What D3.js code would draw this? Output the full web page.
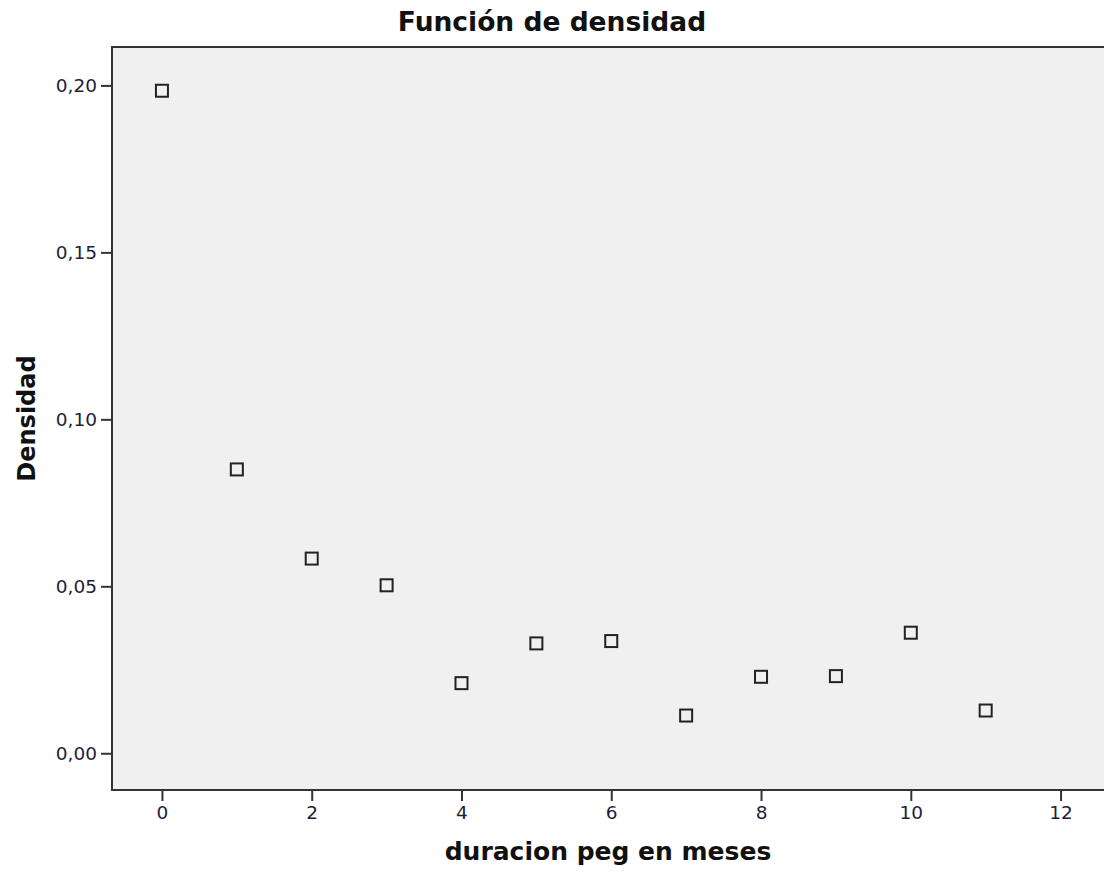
<!DOCTYPE html>
<html>
<head>
<meta charset="utf-8">
<script src="https://cdn.jsdelivr.net/npm/d3@7"></script>
<style>
  html, body { margin: 0; padding: 0; background: #ffffff; }
  svg { display: block; }
  .tick text { font-family: "DejaVu Sans", sans-serif; fill: #1e1e3c; }
</style>
</head>
<body>
<svg id="chart" width="1104" height="873"></svg>
<script>
// Duración del peg en meses y su densidad estimada
const months = [0, 1, 2, 3, 4, 5, 6, 7, 8, 9, 10, 11];
const density = [0.1984, 0.0850, 0.0583, 0.0503, 0.0210, 0.0329, 0.0336, 0.0113, 0.0229, 0.0231, 0.0361, 0.0128];
const xTickValues = [0, 2, 4, 6, 8, 10, 12];
const yTickValues = [0, 0.05, 0.10, 0.15, 0.20];
const titleText = "Función de densidad";
const xLabel = "duracion peg en meses";
const yLabel = "Densidad";

const W = 1104, H = 873;
const margin = { top: 47, right: 0, bottom: 83, left: 112 };
const svg = d3.select("#chart");

const x = d3.scaleLinear().domain([-0.667, 12.58]).range([margin.left, W - margin.right]);
const y = d3.scaleLinear().domain([-0.011, 0.2115]).range([H - margin.bottom, margin.top]);

const commaFmt = d => d3.format(".2f")(d).replace(".", ",");

// plot background and frame (open on the right)
svg.append("rect")
  .attr("x", margin.left).attr("y", margin.top)
  .attr("width", W - margin.left + 4).attr("height", H - margin.bottom - margin.top)
  .attr("fill", "#f0f0f0").attr("stroke", "#333333").attr("stroke-width", 2);

// axes
const xAxis = svg.append("g")
  .attr("transform", `translate(0,${H - margin.bottom})`)
  .call(d3.axisBottom(x).tickValues(xTickValues).tickSize(11).tickPadding(5).tickFormat(d3.format("d")));
const yAxis = svg.append("g")
  .attr("transform", `translate(${margin.left},0)`)
  .call(d3.axisLeft(y).tickValues(yTickValues).tickSize(11).tickPadding(4).tickFormat(commaFmt));

[xAxis, yAxis].forEach(g => {
  g.select(".domain").remove();
  g.selectAll(".tick line").attr("stroke", "#333333").attr("stroke-width", 2);
  g.selectAll(".tick text").attr("font-size", 18.5);
});

// markers
const s = 12;
svg.append("g").selectAll("rect")
  .data(months.map((m, i) => ({ m, v: density[i] })))
  .join("rect")
  .attr("x", d => x(d.m) - s / 2)
  .attr("y", d => y(d.v) - s / 2)
  .attr("width", s).attr("height", s)
  .attr("fill", "#f0f0f0")
  .attr("stroke", "#222222")
  .attr("stroke-width", 2);

// title and axis titles
svg.append("text")
  .attr("x", W / 2).attr("y", 31)
  .attr("text-anchor", "middle")
  .attr("font-family", "DejaVu Sans, sans-serif")
  .attr("font-weight", "bold").attr("font-size", 26.5)
  .attr("fill", "#111111")
  .text(titleText);

svg.append("text")
  .attr("x", (margin.left + W) / 2).attr("y", 860)
  .attr("text-anchor", "middle")
  .attr("font-family", "DejaVu Sans, sans-serif")
  .attr("font-weight", "bold").attr("font-size", 25)
  .attr("fill", "#111111")
  .text(xLabel);

svg.append("text")
  .attr("transform", `translate(35,${(margin.top + H - margin.bottom) / 2}) rotate(-90)`)
  .attr("text-anchor", "middle")
  .attr("font-family", "DejaVu Sans, sans-serif")
  .attr("font-weight", "bold").attr("font-size", 24)
  .attr("fill", "#111111")
  .text(yLabel);
</script>
</body>
</html>
